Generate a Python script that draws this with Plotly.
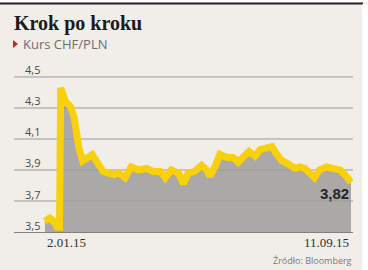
import plotly.graph_objects as go

# ---------------- data ----------------
DATES = [
    "2015-01-02", "2015-01-06", "2015-01-09", "2015-01-12", "2015-01-14",
    "2015-01-15", "2015-01-19", "2015-01-23", "2015-01-26", "2015-01-28",
    "2015-01-30", "2015-02-02", "2015-02-06", "2015-02-10", "2015-02-14",
    "2015-02-19", "2015-02-23", "2015-02-28", "2015-03-04", "2015-03-09",
    "2015-03-14", "2015-03-20", "2015-03-27", "2015-04-01", "2015-04-07",
    "2015-04-11", "2015-04-16", "2015-04-22", "2015-04-26", "2015-04-30",
    "2015-05-05", "2015-05-11", "2015-05-15", "2015-05-18", "2015-05-22",
    "2015-05-26", "2015-06-01", "2015-06-06", "2015-06-10", "2015-06-16",
    "2015-06-19", "2015-06-24", "2015-06-28", "2015-07-02", "2015-07-08",
    "2015-07-12", "2015-07-16", "2015-07-21", "2015-07-27", "2015-07-31",
    "2015-08-04", "2015-08-08", "2015-08-12", "2015-08-16", "2015-08-22",
    "2015-08-27", "2015-09-02", "2015-09-06", "2015-09-11",
]
VALUES = [
    3.57, 3.59, 3.57, 3.53, 3.53,
    4.43, 4.34, 4.31, 4.24, 4.13,
    4.04, 3.96, 3.98, 4.00, 3.95,
    3.89, 3.88, 3.87, 3.88, 3.85,
    3.92, 3.90, 3.91, 3.89, 3.89,
    3.85, 3.90, 3.88, 3.81, 3.88,
    3.89, 3.93, 3.90, 3.86, 3.92,
    4.00, 3.98, 3.98, 3.95, 3.99,
    4.02, 3.99, 4.03, 4.04, 4.05,
    4.00, 3.96, 3.94, 3.91, 3.92,
    3.91, 3.88, 3.85, 3.90, 3.92,
    3.91, 3.90, 3.87, 3.82,
]
Y_TICKS = [3.5, 3.7, 3.9, 4.1, 4.3, 4.5]
TITLE = "Krok po kroku"
SUBTITLE = "Kurs CHF/PLN"
SOURCE = "Źródło: Bloomberg"
FIRST_LABEL = "2.01.15"
LAST_LABEL = "11.09.15"
LAST_VALUE_LABEL = "3,82"

# ---------------- layout constants ----------------
X_RANGE = ["2014-12-07 12:43", "2015-09-12 15:32"]
Y_RANGE = [3.5, 4.545]
W, H = 368, 270
ML, MR, MT, MB = 14, 15, 70, 38
PW, PH = W - ML - MR, H - MT - MB


def px(x):
    return (x - ML) / PW


def py(y):
    return (H - MB - y) / PH


BG = "#f1ede9"
GREY = "#aaa9a7"
YELLOW = "#f8d00c"
GRID = "#9b9a98"

fig = go.Figure()

# grey area under the series
fig.add_trace(go.Scatter(
    x=DATES, y=VALUES, mode="lines",
    line=dict(width=0, color=GREY),
    fill="tozeroy", fillcolor=GREY, hoverinfo="skip", showlegend=False,
))

# grid lines (above the area, below the yellow line)
for t in Y_TICKS[1:]:
    fig.add_trace(go.Scatter(
        x=X_RANGE, y=[t, t], mode="lines",
        line=dict(color=GRID, width=1), hoverinfo="skip", showlegend=False,
    ))

# yellow series line
fig.add_trace(go.Scatter(
    x=DATES, y=VALUES, mode="lines",
    line=dict(color=YELLOW, width=7),
    hoverinfo="skip", showlegend=False,
))

annotations = []
for t in Y_TICKS:
    annotations.append(dict(
        text=f"{t:.1f}".replace(".", ","), xref="paper", x=px(23), xanchor="left",
        yref="y", y=t, yanchor="middle", yshift=7, showarrow=False,
        font=dict(family="Open Sans", size=11, color="#4a4a4a"),
    ))

annotations += [
    dict(text=f"<b>{TITLE}</b>", xref="paper", x=px(12), xanchor="left",
         yref="paper", y=py(23), yanchor="middle", showarrow=False,
         font=dict(family="Liberation Serif", size=20, color="#1b1b1b")),
    dict(text=SUBTITLE, xref="paper", x=px(21), xanchor="left",
         yref="paper", y=py(44), yanchor="middle", showarrow=False,
         font=dict(family="Open Sans", size=13, color="#6e6e6e")),
    dict(text=FIRST_LABEL, xref="x", x=DATES[0], xanchor="left",
         yref="paper", y=py(242), yanchor="middle", showarrow=False,
         font=dict(family="Liberation Serif", size=13, color="#303030")),
    dict(text=LAST_LABEL, xref="x", x=DATES[-1], xanchor="right",
         yref="paper", y=py(242), yanchor="middle", showarrow=False,
         font=dict(family="Liberation Serif", size=13, color="#303030")),
    dict(text=f"<b>{LAST_VALUE_LABEL}</b>", xref="x", x=DATES[-1], xanchor="right",
         yref="y", y=VALUES[-1], yanchor="middle", yshift=-11, showarrow=False,
         font=dict(family="Liberation Sans", size=15, color="#262626")),
    dict(text=SOURCE, xref="paper", x=px(354), xanchor="right",
         yref="paper", y=py(260), yanchor="middle", showarrow=False,
         font=dict(family="Open Sans", size=9, color="#7a7a7a")),
]

shapes = [
    # white strip at top
    dict(type="rect", xref="paper", yref="paper", x0=px(-5), x1=px(375),
         y0=py(2.5), y1=py(-5), fillcolor="white", line=dict(width=0), layer="above"),
    # black rule
    dict(type="rect", xref="paper", yref="paper", x0=px(0), x1=px(363),
         y0=py(4.5), y1=py(2.5), fillcolor="#222222", line=dict(width=0), layer="above"),
    # white strip right
    dict(type="rect", xref="paper", yref="paper", x0=px(362), x1=px(375),
         y0=py(275), y1=py(4.5), fillcolor="white", line=dict(width=0), layer="above"),
    # red triangle marker
    dict(type="path", xref="paper", yref="paper",
         path=f"M {px(13)},{py(40)} L {px(18)},{py(44)} L {px(13)},{py(48)} Z",
         fillcolor="#d42027", line=dict(width=0), layer="above"),
]

fig.update_layout(
    width=W, height=H, autosize=False,
    margin=dict(l=ML, r=MR, t=MT, b=MB, pad=0),
    paper_bgcolor=BG, plot_bgcolor=BG,
    showlegend=False,
    xaxis=dict(type="date", range=X_RANGE, showgrid=False, zeroline=False,
               showticklabels=False, ticks="", showline=True,
               linecolor="#808080", linewidth=1, fixedrange=True),
    yaxis=dict(range=Y_RANGE, showgrid=False, zeroline=False,
               showticklabels=False, ticks="", fixedrange=True),
    annotations=annotations,
    shapes=shapes,
)

fig.write_html("out.html")
